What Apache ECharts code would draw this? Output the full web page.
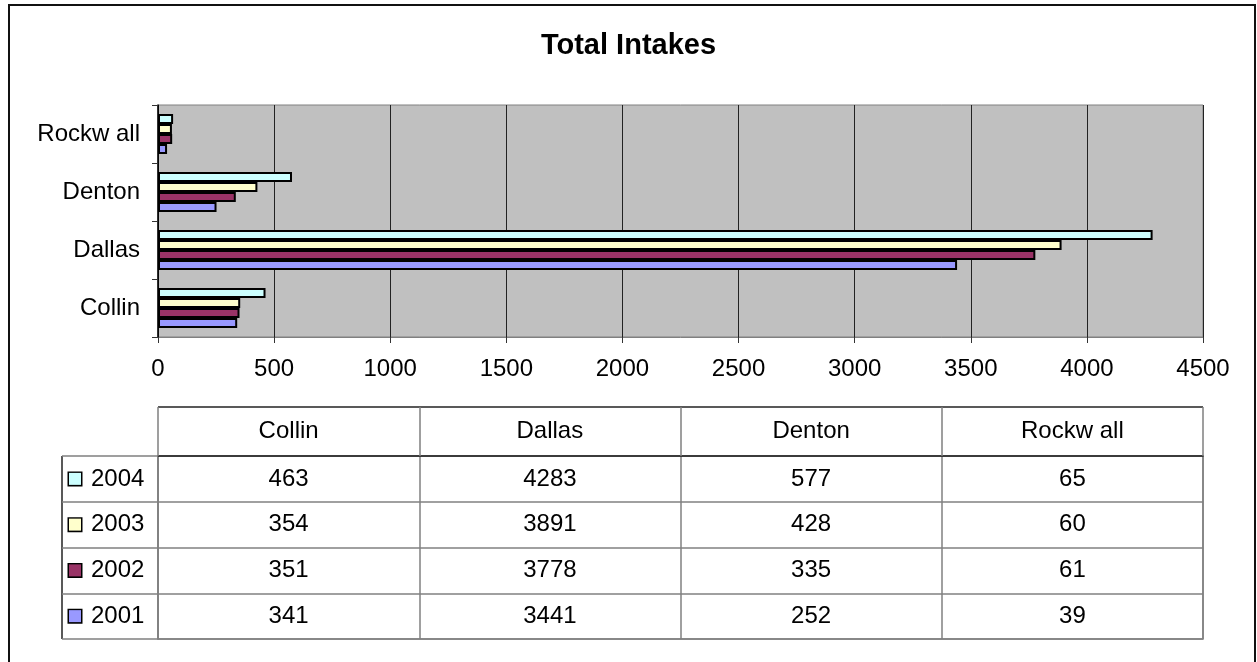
<!DOCTYPE html>
<html>
<head>
<meta charset="utf-8">
<script src="https://cdn.jsdelivr.net/npm/echarts@6/dist/echarts.min.js"></script>
<style>html,body{margin:0;padding:0;background:#fff;}#c{width:1257px;height:662px;}</style>
</head>
<body>
<div id="c"></div>
<script>
const title = 'Total Intakes';
const categories = ['Collin', 'Dallas', 'Denton', 'Rockw all'];
const years = ['2001', '2002', '2003', '2004'];
const v2001 = [341, 3441, 252, 39];
const v2002 = [351, 3778, 335, 61];
const v2003 = [354, 3891, 428, 60];
const v2004 = [463, 4283, 577, 65];
const xTicks = [0, 500, 1000, 1500, 2000, 2500, 3000, 3500, 4000, 4500];

const seriesValues = [v2001, v2002, v2003, v2004];
const colors = ['#9999FF', '#993366', '#FFFFCC', '#CCFFFF'];
const FONT = '"Liberation Sans", Arial, sans-serif';

const W = 1257, H = 662;
const plot = { left: 158, right: 1203, top: 105, bottom: 337 };
const table = { left: 62, colLeft: 158, right: 1203, headTop: 407, top: 456, bottom: 639 };

const rich = {};
years.forEach((y, i) => {
  rich['s' + i] = { width: 12, height: 12, backgroundColor: colors[i], borderColor: '#000', borderWidth: 1.5 };
  rich['t' + i] = { fontSize: 24, fontFamily: FONT, color: '#000', padding: [0, 0, 0, 10] };
});

const series = [];
// later years first so that 2004 sits on top within each category band
for (let i = years.length - 1; i >= 0; i--) {
  series.push({
    name: years[i], type: 'bar', xAxisIndex: 0, yAxisIndex: 0,
    data: seriesValues[i],
    barGap: '0%', barCategoryGap: '31%',
    itemStyle: { color: colors[i], borderColor: '#000', borderWidth: 2 },
    silent: true
  });
}
years.forEach((y, i) => {
  series.push({
    name: 'table' + y, type: 'scatter', xAxisIndex: 1, yAxisIndex: 1,
    symbolSize: 1, itemStyle: { color: '#fff', opacity: 0 },
    data: categories.map((c, j) => [j, i, seriesValues[i][j]]),
    label: { show: true, position: 'inside', formatter: p => String(p.value[2]), fontSize: 24, fontFamily: FONT,
      color: '#000', textBorderWidth: 0, opacity: 1 },
    silent: true
  });
});

const chart = echarts.init(document.getElementById('c'), null, { renderer: 'canvas' });
chart.setOption({
  backgroundColor: '#fff',
  animation: false,
  title: {
    text: title, left: 'center', top: 26,
    textStyle: { fontSize: 29, fontWeight: 'bold', fontFamily: FONT, color: '#000' }
  },
  grid: [
    { left: plot.left, top: plot.top, width: plot.right - plot.left, height: plot.bottom - plot.top,
      show: true, backgroundColor: '#C0C0C0', borderColor: '#808080', borderWidth: 1, containLabel: false },
    { left: table.colLeft, top: table.top, width: table.right - table.colLeft, height: table.bottom - table.top,
      show: true, backgroundColor: 'rgba(0,0,0,0)', borderColor: '#808080', borderWidth: 1.5, containLabel: false }
  ],
  xAxis: [
    { gridIndex: 0, type: 'value', min: xTicks[0], max: xTicks[xTicks.length - 1], interval: xTicks[1] - xTicks[0],
      axisLine: { show: true, lineStyle: { color: '#808080', width: 1 } },
      axisTick: { show: true, length: 6, lineStyle: { color: '#333' } },
      axisLabel: { fontSize: 24, fontFamily: FONT, color: '#000', margin: 20, formatter: v => String(v) },
      splitLine: { show: true, lineStyle: { color: '#222', width: 1 } } },
    { gridIndex: 1, type: 'category', data: categories, position: 'top',
      axisLine: { show: true, lineStyle: { color: '#222', width: 1.5 } },
      axisTick: { show: true, length: table.top - table.headTop, interval: 0, lineStyle: { color: '#808080', width: 1.5 } },
      axisLabel: { fontSize: 24, fontFamily: FONT, color: '#000', margin: 13, interval: 0 },
      splitLine: { show: true, interval: 0, lineStyle: { color: '#808080', width: 1.5 } } }
  ],
  yAxis: [
    { gridIndex: 0, type: 'category', data: categories,
      axisLine: { show: true, lineStyle: { color: '#000', width: 1.5 } },
      axisTick: { show: true, length: 6, lineStyle: { color: '#333' } },
      axisLabel: { fontSize: 24, fontFamily: FONT, color: '#000', margin: 18 },
      splitLine: { show: false } },
    { gridIndex: 1, type: 'category', data: years,
      axisLine: { show: true, lineStyle: { color: '#808080', width: 1.5 } },
      axisTick: { show: true, length: table.colLeft - table.left, interval: 0, lineStyle: { color: '#808080', width: 1.5 } },
      axisLabel: { margin: table.colLeft - table.left - 7, align: 'left', interval: 0,
        formatter: (v, idx) => '{s' + idx + '|}{t' + idx + '|' + v + '}', rich: rich },
      splitLine: { show: true, interval: 0, lineStyle: { color: '#808080', width: 1.5 } } }
  ],
  graphic: [
    { type: 'rect', silent: true, shape: { x: 9, y: 5, width: W - 11, height: H + 20 },
      style: { fill: 'none', stroke: '#111', lineWidth: 2 } },
    { type: 'line', silent: true, shape: { x1: table.colLeft, y1: table.headTop, x2: table.right, y2: table.headTop },
      style: { stroke: '#222', lineWidth: 1.5 } },
    { type: 'line', silent: true, shape: { x1: table.left, y1: table.top, x2: table.left, y2: table.bottom },
      style: { stroke: '#222', lineWidth: 1.5 } }
  ],
  series: series
});
</script>
</body>
</html>
